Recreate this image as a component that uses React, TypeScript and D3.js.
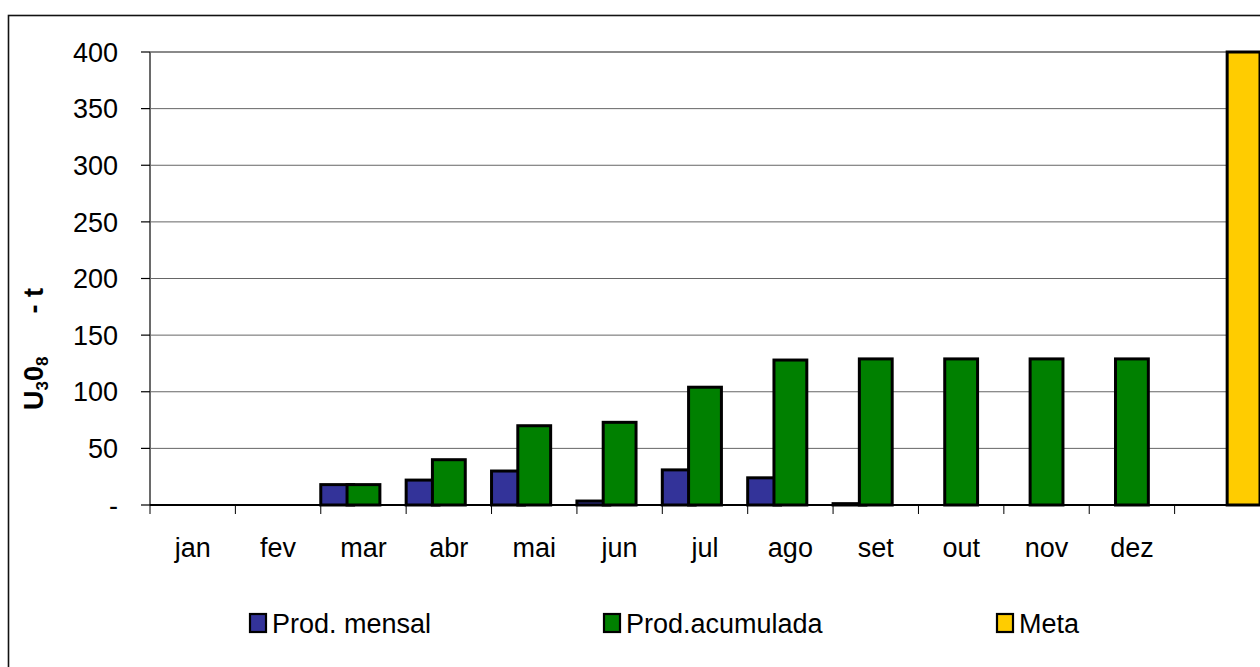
import React from "react";
import * as d3 from "d3";

// months on the category axis; the 13th slot only holds the annual target
const categories = ["jan", "fev", "mar", "abr", "mai", "jun", "jul", "ago", "set", "out", "nov", "dez", ""];

const prodMensal: (number | null)[] = [null, null, 18, 22, 30, 3.5, 31, 24, 1.2, null, null, null, null];
const prodAcumulada: (number | null)[] = [null, null, 18, 40, 70, 73, 104, 128, 129, 129, 129, 129, null];
const meta: (number | null)[] = [null, null, null, null, null, null, null, null, null, null, null, null, 400];

const yTicks = [0, 50, 100, 150, 200, 250, 300, 350, 400];
const yTickLabels = ["-", "50", "100", "150", "200", "250", "300", "350", "400"];

const seriesNames = ["Prod. mensal", "Prod.acumulada", "Meta"];
const seriesColors = ["#333399", "#008000", "#FFCC00"];

const W = 1260;
const H = 667;
const FONT = "'Liberation Sans', Arial, sans-serif";
const plot = { left: 150, right: 1260, top: 52, bottom: 505 };
const legendX = [250, 604, 997];

export default function App() {
  const series = [prodMensal, prodAcumulada, meta];

  const x = d3.scaleBand<string>()
    .domain(categories.map((c, i) => `${i}`))
    .range([plot.left, plot.right])
    .padding(0);

  const y = d3.scaleLinear().domain([0, 400]).range([plot.bottom, plot.top]);

  // excel-style clustered bars: no gap, 20% overlap
  const overlap = 0.2;
  const bw = x.bandwidth() / (series.length - (series.length - 1) * overlap);
  const step = bw * (1 - overlap);

  return (
    <div style={{ position: "absolute", left: 0, top: 0 }}>
      <svg width={W} height={H} style={{ display: "block", background: "#fff" }} fontFamily={FONT}>
        {/* outer chart frame */}
        <rect x={8.5} y={15.5} width={W + 20} height={H + 20} fill="none" stroke="#111" strokeWidth={1.6} />

        {/* gridlines */}
        {yTicks.slice(1).map((t, i) => (
          <line
            key={`g${t}`}
            x1={plot.left}
            x2={plot.right}
            y1={y(t)}
            y2={y(t)}
            stroke={i === yTicks.length - 2 ? "#8a8a8a" : "#666"}
            strokeWidth={i === yTicks.length - 2 ? 2 : 1}
          />
        ))}

        {/* bars */}
        {series.map((vals, si) =>
          vals.map((v, ci) =>
            v == null ? null : (
              <rect
                key={`b${si}-${ci}`}
                x={(x(`${ci}`) ?? 0) + si * step}
                y={y(v)}
                width={bw}
                height={plot.bottom - y(v)}
                fill={seriesColors[si]}
                stroke="#000"
                strokeWidth={3}
              />
            )
          )
        )}

        {/* y axis */}
        <line x1={plot.left} x2={plot.left} y1={plot.top} y2={plot.bottom} stroke="#6a6a6a" strokeWidth={2} />
        {yTicks.map((t, i) => (
          <g key={`yt${t}`}>
            <line x1={plot.left - 9} x2={plot.left} y1={y(t)} y2={y(t)} stroke="#000" strokeWidth={1.2} />
            <text x={118} y={y(t)} dy="0.36em" textAnchor="end" fontSize={27} fill="#000">
              {yTickLabels[i]}
            </text>
          </g>
        ))}

        {/* x axis */}
        <line x1={plot.left} x2={plot.right} y1={plot.bottom} y2={plot.bottom} stroke="#000" strokeWidth={2.2} />
        {categories.map((c, i) => (
          <g key={`xt${i}`}>
            <line
              x1={x(`${i}`) ?? 0}
              x2={x(`${i}`) ?? 0}
              y1={plot.bottom}
              y2={plot.bottom + 9}
              stroke="#000"
              strokeWidth={1}
            />
            <text x={(x(`${i}`) ?? 0) + x.bandwidth() / 2} y={557} textAnchor="middle" fontSize={27} fill="#000">
              {c}
            </text>
          </g>
        ))}

        {/* y axis title */}
        <text transform="translate(43,410) rotate(-90)" fontSize={27} fontWeight="bold" fill="#000">
          <tspan>U</tspan>
          <tspan fontSize={17} dy={5}>3</tspan>
          <tspan dy={-5}>0</tspan>
          <tspan fontSize={17} dy={5}>8</tspan>
          <tspan dy={-5} dx={43}>- t</tspan>
        </text>

        {/* legend */}
        {seriesNames.map((n, i) => (
          <g key={`lg${i}`}>
            <rect x={legendX[i]} y={614} width={16} height={18} fill={seriesColors[i]} stroke="#000" strokeWidth={2.2} />
            <text x={legendX[i] + 22} y={633} fontSize={27} fill="#000">
              {n}
            </text>
          </g>
        ))}
      </svg>
    </div>
  );
}
